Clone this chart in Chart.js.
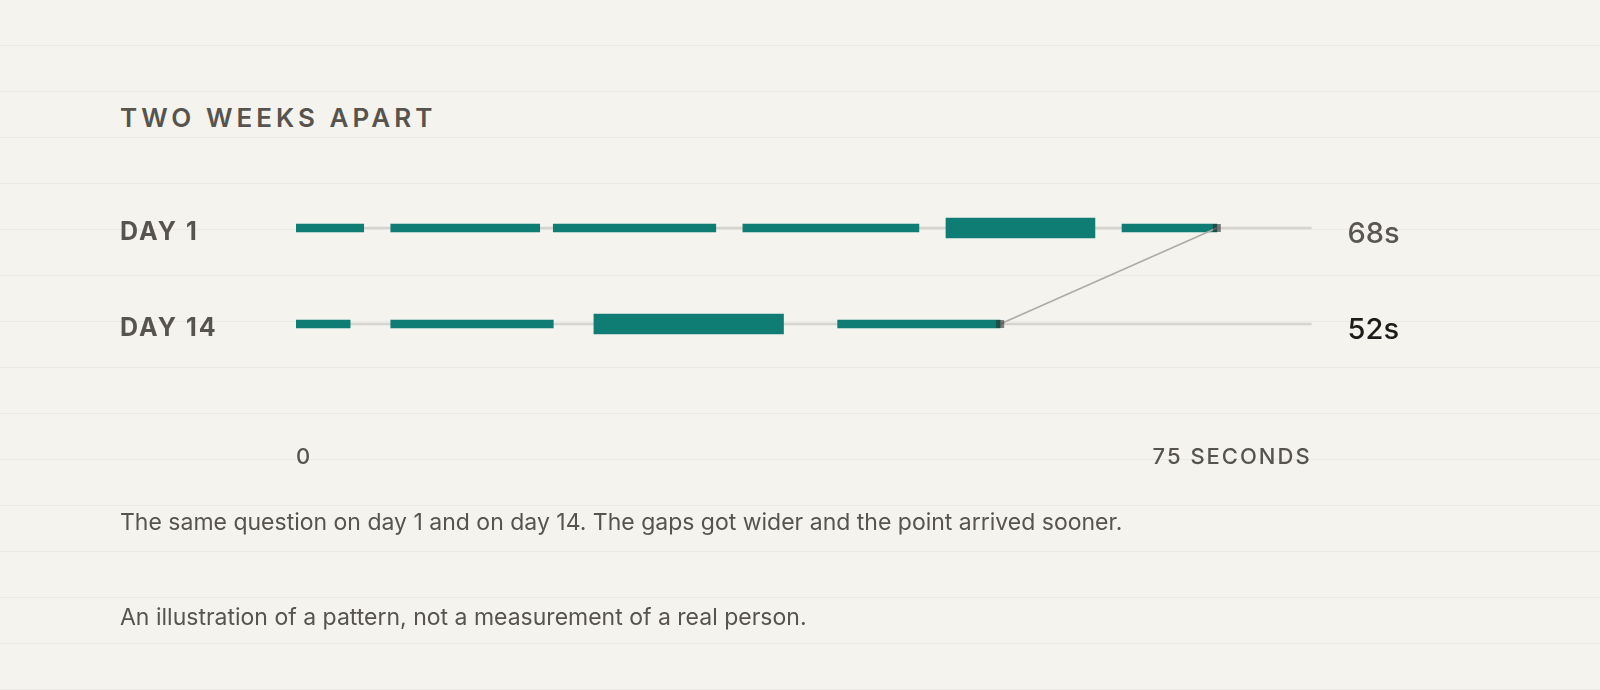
<!DOCTYPE html>
<html lang="en">
<head>
<meta charset="UTF-8">
<title>Two weeks apart</title>
<script src="https://cdn.jsdelivr.net/npm/chart.js@4.4.1/dist/chart.umd.min.js"></script>
<style>
  html, body {
    margin: 0;
    padding: 0;
  }
  body {
    width: 1600px;
    height: 690px;
    overflow: hidden;
    position: relative;
    font-family: Inter, "Noto Sans", sans-serif;
    color: #57544e;
    background-color: #f4f3ee;
    /* ruled paper lines every 46px */
    background-image: repeating-linear-gradient(to bottom, transparent 0, transparent 45px, #ebe9e3 45px, #ebe9e3 46px);
  }
  .title {
    position: absolute;
    left: 120px;
    top: 105px;
    font-size: 26px;
    line-height: 1;
    font-weight: 600;
    letter-spacing: 0.155em;
    white-space: nowrap;
  }
  .note {
    position: absolute;
    left: 120px;
    font-size: 23px;
    line-height: 1;
    white-space: nowrap;
  }
  #chartBox {
    position: absolute;
    left: 0;
    top: 0;
    width: 1600px;
    height: 690px;
  }
</style>
</head>
<body>

<div class="title">TWO WEEKS APART</div>
<div id="chartBox"><canvas id="timeline"></canvas></div>
<div class="note" style="top: 511px;">The same question on day 1 and on day 14. The gaps got wider and the point arrived sooner.</div>
<div class="note" style="top: 606px;">An illustration of a pattern, not a measurement of a real person.</div>

<script>
// rows and the speaking segments (seconds from the start)
const rows = ['DAY 1', 'DAY 14'];
const day1Talk = [[0, 5], [7, 18], [19, 31], [33, 46], [61, 68]];
const day1Point = [48, 59];
const day14Talk = [[0, 4], [7, 19], [40, 52]];
const day14Point = [22, 36];
const totals = [68, 52];
const xTickValues = [0, 75];
const xTickLabels = ['0', '75 SECONDS'];
const xMax = 75;

const teal = '#0f7d74';
const totalColors = ['#5a5751', '#1d1c1a'];

function segs(list, row) {
  return list.map(s => ({ x: s, y: row }));
}

// letter spacing for the axis labels, and the totals on the right
const spacingPlugin = {
  id: 'spacing',
  beforeDraw(chart) { chart.ctx.letterSpacing = '2px'; },
  afterDatasetsDraw(chart) {
    const ctx = chart.ctx;
    const yScale = chart.scales.y;
    ctx.save();
    ctx.letterSpacing = '0px';
    ctx.font = '500 29px Inter, "Noto Sans", sans-serif';
    ctx.textAlign = 'left';
    ctx.textBaseline = 'alphabetic';
    totals.forEach((t, i) => {
      ctx.fillStyle = totalColors[i];
      ctx.fillText(t + 's', chart.chartArea.right + 36, yScale.getPixelForValue(i) + 15);
    });
    ctx.restore();
  },
  afterDraw(chart) { chart.ctx.letterSpacing = '0px'; }
};

new Chart(document.getElementById('timeline'), {
  type: 'bar',
  data: {
    labels: rows,
    datasets: [
      {
        // connector between the two end points, points are the end markers
        type: 'line',
        indexAxis: 'y',
        data: [{ x: totals[0], y: rows[0] }, { x: totals[1], y: rows[1] }],
        borderColor: '#adaba5',
        borderWidth: 1.6,
        pointStyle: 'rect',
        pointRadius: 5.66,
        pointBorderWidth: 0,
        pointBackgroundColor: 'rgba(45, 45, 45, 0.6)',
        order: 0
      },
      {
        data: segs(day1Talk, rows[0]).concat(segs(day14Talk, rows[1])),
        backgroundColor: teal,
        barThickness: 8,
        grouped: false,
        order: 1
      },
      {
        data: [{ x: day1Point, y: rows[0] }, { x: day14Point, y: rows[1] }],
        backgroundColor: teal,
        barThickness: 20,
        grouped: false,
        order: 1
      },
      {
        // light track under each row
        data: rows.map(r => ({ x: [0, xMax], y: r })),
        backgroundColor: '#d6d4ce',
        barThickness: 2,
        grouped: false,
        order: 3
      }
    ]
  },
  options: {
    indexAxis: 'y',
    responsive: true,
    maintainAspectRatio: false,
    animation: false,
    layout: { padding: { left: 120, right: 288.4, top: 180, bottom: 198 } },
    plugins: {
      legend: { display: false },
      tooltip: { enabled: false }
    },
    scales: {
      x: {
        type: 'linear',
        min: 0,
        max: xMax,
        grid: { display: false, drawTicks: false },
        border: { display: false },
        afterBuildTicks: scale => { scale.ticks = xTickValues.map(v => ({ value: v })); },
        afterFit: scale => { scale.height = 120; },
        ticks: {
          align: 'inner',
          padding: 72,
          color: '#57544e',
          font: { family: 'Inter', size: 22, weight: 500 },
          callback: v => xTickLabels[xTickValues.indexOf(v)]
        }
      },
      y: {
        type: 'category',
        offset: true,
        grid: { display: false, drawTicks: false },
        border: { display: false },
        afterFit: scale => { scale.width = 176; },
        ticks: {
          crossAlign: 'far',
          labelOffset: 4,
          color: '#57544e',
          font: { family: 'Inter', size: 25, weight: 700 }
        }
      }
    }
  },
  plugins: [spacingPlugin]
});
</script>

</body>
</html>
